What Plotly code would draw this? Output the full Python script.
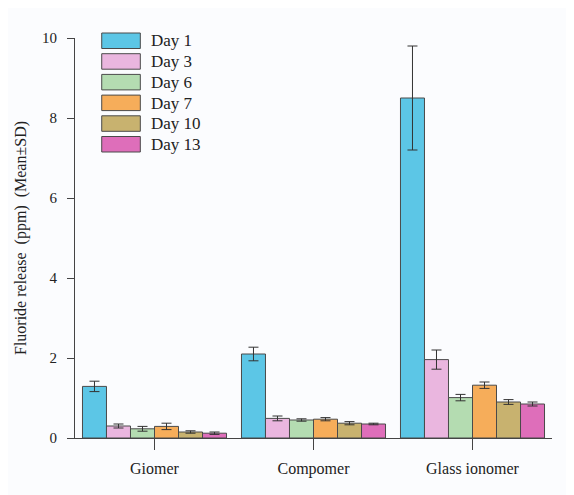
import plotly.graph_objects as go

materials = ["Giomer", "Compomer", "Glass ionomer"]
days = ["Day 1", "Day 3", "Day 6", "Day 7", "Day 10", "Day 13"]
means = {
    "Day 1": [1.29, 2.10, 8.50],
    "Day 3": [0.30, 0.49, 1.96],
    "Day 6": [0.23, 0.45, 1.01],
    "Day 7": [0.29, 0.47, 1.32],
    "Day 10": [0.15, 0.37, 0.90],
    "Day 13": [0.12, 0.35, 0.85],
}
sds = {
    "Day 1": [0.13, 0.17, 1.30],
    "Day 3": [0.05, 0.06, 0.24],
    "Day 6": [0.06, 0.03, 0.08],
    "Day 7": [0.08, 0.04, 0.08],
    "Day 10": [0.03, 0.04, 0.06],
    "Day 13": [0.03, 0.02, 0.05],
}
colors = ["#5CC6E6", "#EAB6DF", "#B4DCB1", "#F6AD5A", "#C8B26F", "#DE6EBA"]
y_ticks = [0, 2, 4, 6, 8, 10]

FONT = "Times New Roman, Liberation Serif, DejaVu Serif, serif"
W, H = 574, 495
OFF = 8  # page body offset
ML, MR, MT, MB = 62, 30, 30, 65

fig = go.Figure()
for d, c in zip(days, colors):
    fig.add_trace(go.Bar(
        x=materials, y=means[d], name=d,
        marker=dict(color=c, line=dict(color="#4a4a4a", width=1)),
        error_y=dict(type="data", array=sds[d], visible=True,
                     color="#333333", thickness=1, width=5),
        showlegend=False,
    ))

# manual legend (wide swatches as in reference)
pw = W - ML - MR
ph = H - MT - MB
def px2x(px):
    return (px - OFF - ML) / pw
def py2y(py):
    return (MT + ph - (py - OFF)) / ph

shapes = []
annotations = []
for i, (d, c) in enumerate(zip(days, colors)):
    top = 33 + i * 20.7
    shapes.append(dict(type="rect", xref="paper", yref="paper",
                       x0=px2x(97), x1=px2x(136), y0=py2y(top + 15.5), y1=py2y(top),
                       fillcolor=c, line=dict(color="#4a4a4a", width=1)))
    annotations.append(dict(xref="paper", yref="paper", x=px2x(145), y=py2y(top + 8),
                            text=d, showarrow=False, xanchor="left", yanchor="middle",
                            font=dict(family=FONT, size=17, color="#222")))

fig.update_layout(
    width=W, height=H,
    margin=dict(l=ML, r=MR, t=MT, b=MB),
    paper_bgcolor="#fbfcfe", plot_bgcolor="#fbfcfe",
    barmode="group", bargap=0.094, bargroupgap=0,
    font=dict(family=FONT, size=14, color="#222"),
    shapes=shapes, annotations=annotations,
    xaxis=dict(showline=True, linecolor="#444", linewidth=1,
               ticks="outside", ticklen=11, tickcolor="#444",
               ticklabelstandoff=5,
               tickfont=dict(family=FONT, size=16), showgrid=False,
               range=[-0.5, 2.5]),
    yaxis=dict(showline=True, linecolor="#444", linewidth=1,
               ticks="outside", ticklen=7, tickcolor="#444",
               ticklabelstandoff=7,
               tickvals=y_ticks, range=[0, 10], showgrid=False, zeroline=False,
               tickfont=dict(family=FONT, size=15),
               title=dict(text="Fluoride release  (ppm)  (Mean±SD)",
                          font=dict(family=FONT, size=16), standoff=11)),
)

fig.write_html("out.html")
